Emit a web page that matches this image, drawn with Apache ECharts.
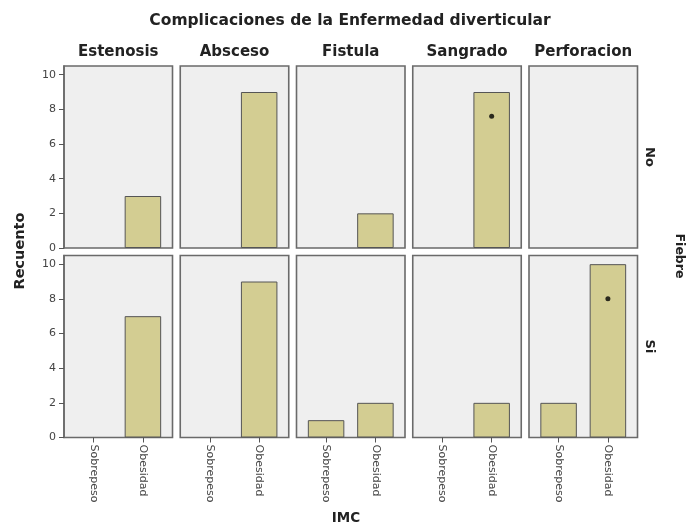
<!DOCTYPE html>
<html>
<head>
<meta charset="utf-8">
<script src="https://cdn.jsdelivr.net/npm/echarts@6/dist/echarts.min.js"></script>
<style>
  html, body { margin: 0; padding: 0; background: #ffffff; }
  #chart { width: 688px; height: 528px; }
</style>
</head>
<body>
<div id="chart"></div>
<script>
// Facet categories
const complicaciones = ['Estenosis', 'Absceso', 'Fistula', 'Sangrado', 'Perforacion'];
const fiebre = ['No', 'Si'];
const imc = ['Sobrepeso', 'Obesidad'];

// Counts per complication: [Sobrepeso, Obesidad]
const recuentoNo = [[0, 3], [0, 9], [0, 2], [0, 9], [0, 0]];
const recuentoSi = [[0, 7], [0, 9], [1, 2], [0, 2], [2, 10]];

// Point markers drawn over the Obesidad bars (null = no marker)
const marcaNo = [null, null, null, 7.6, null];
const marcaSi = [null, null, null, null, 8.0];

const yTicks = [0, 2, 4, 6, 8, 10];

// Panel layout
const FONT = 'DejaVu Sans';
const panelLeft = 64, panelStep = 116.25, panelW = 108.5, panelH = 182;
const rowTop = [66, 255.5];
const frameColor = '#6a6a6a';
const barColor = '#d3cd92';

const grids = [], xAxes = [], yAxes = [], series = [];
const rows = [recuentoNo, recuentoSi];
const marks = [marcaNo, marcaSi];

rows.forEach((rowData, r) => {
  complicaciones.forEach((name, c) => {
    const k = r * complicaciones.length + c;
    grids.push({
      left: panelLeft + c * panelStep, top: rowTop[r], width: panelW, height: panelH,
      show: true, backgroundColor: '#efefef', borderColor: frameColor, borderWidth: 1.6
    });
    const bottomRow = r === rows.length - 1;
    const firstCol = c === 0;
    xAxes.push({
      gridIndex: k, type: 'value', min: -0.6, max: 1.6,
      splitLine: { show: false },
      axisLine: { show: false, onZero: false },
      axisTick: bottomRow
        ? { show: true, customValues: [0, 1], length: 5, lineStyle: { color: '#555', width: 1 } }
        : { show: false },
      axisLabel: bottomRow
        ? { show: true, customValues: [0, 1], rotate: -90, margin: 7,
            formatter: v => imc[Math.round(v)], fontFamily: FONT, fontSize: 11, color: '#444' }
        : { show: false }
    });
    yAxes.push({
      gridIndex: k, type: 'value', min: 0, max: 10.5,
      splitLine: { show: false },
      axisLine: firstCol
        ? { show: true, onZero: false, lineStyle: { color: frameColor, width: 1.6 } }
        : { show: false, onZero: false },
      axisTick: firstCol
        ? { show: true, customValues: yTicks, length: 5, lineStyle: { color: '#555', width: 1 } }
        : { show: false },
      axisLabel: firstCol
        ? { show: true, customValues: yTicks, margin: 8, fontFamily: FONT, fontSize: 11, color: '#444' }
        : { show: false }
    });
    series.push({
      type: 'bar', xAxisIndex: k, yAxisIndex: k, silent: true,
      barWidth: 36.5,
      // zero counts keep their slot but draw no outline
      data: rowData[c].map((v, i) => ({
        value: [i, v],
        itemStyle: v === 0 ? { borderWidth: 0, opacity: 0 } : undefined
      })),
      itemStyle: { color: barColor, borderColor: '#555', borderWidth: 1 }
    });
    const m = marks[r][c];
    if (m !== null) {
      series.push({
        type: 'scatter', xAxisIndex: k, yAxisIndex: k, silent: true,
        symbol: 'circle', symbolSize: 5,
        data: [[1, m]],
        itemStyle: { color: '#000' }, z: 5
      });
    }
  });
});

// Text: title, facet headers, axis titles
const textStyleBold = (size) => ({ fontFamily: FONT, fontWeight: 'bold', fontSize: size, fill: '#222' });
const graphics = [
  { type: 'text', x: 350, y: 21,
    style: Object.assign({ text: 'Complicaciones de la Enfermedad diverticular', align: 'center', verticalAlign: 'middle' }, textStyleBold(15.5)) },
  { type: 'text', x: 20, y: 251, rotation: Math.PI / 2,
    style: Object.assign({ text: 'Recuento', align: 'center', verticalAlign: 'middle' }, textStyleBold(14.5)) },
  { type: 'text', x: 679, y: 256, rotation: -Math.PI / 2,
    style: Object.assign({ text: 'Fiebre', align: 'center', verticalAlign: 'middle' }, textStyleBold(12.5)) },
  { type: 'text', x: 346, y: 518,
    style: Object.assign({ text: 'IMC', align: 'center', verticalAlign: 'middle' }, textStyleBold(13.5)) }
];
complicaciones.forEach((name, c) => {
  graphics.push({ type: 'text', x: panelLeft + c * panelStep + panelW / 2, y: 52,
    style: Object.assign({ text: name, align: 'center', verticalAlign: 'middle' }, textStyleBold(15)) });
});
fiebre.forEach((name, r) => {
  graphics.push({ type: 'text', x: 649, y: rowTop[r] + panelH / 2, rotation: -Math.PI / 2,
    style: Object.assign({ text: name, align: 'center', verticalAlign: 'middle' }, textStyleBold(13)) });
});

const chart = echarts.init(document.getElementById('chart'), null, { renderer: 'canvas' });
chart.setOption({
  animation: false,
  backgroundColor: '#ffffff',
  grid: grids,
  xAxis: xAxes,
  yAxis: yAxes,
  series: series,
  graphic: graphics
});
</script>
</body>
</html>
